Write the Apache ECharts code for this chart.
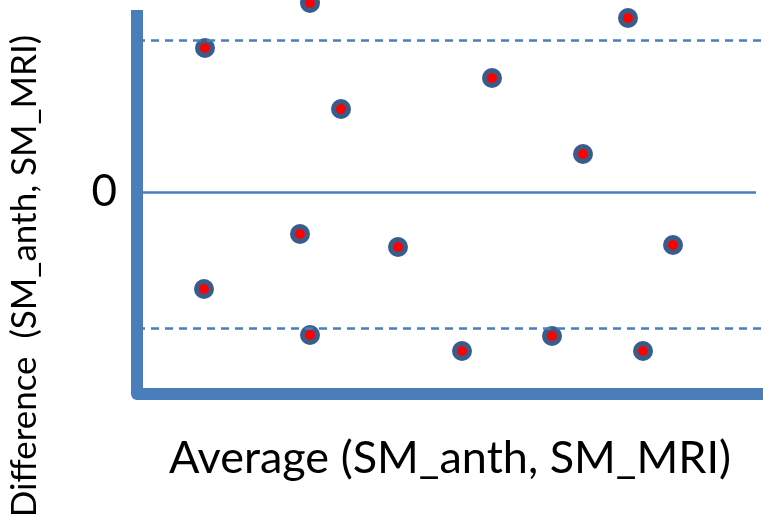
<!DOCTYPE html>
<html>
<head>
<meta charset="utf-8">
<title>Bland-Altman</title>
<script src="https://cdn.jsdelivr.net/npm/echarts@6/dist/echarts.min.js"></script>
<style>
  html, body { margin: 0; padding: 0; background: #fff; }
  #chart { width: 763px; height: 514px; }
</style>
</head>
<body>
<div id="chart"></div>
<script>
// average of the two measures (x) and their difference (y), arbitrary units
const avgVals  = [6.8, 17.3, 20.4, 35.5, 49.1, 44.6, 16.3, 6.7, 26.1, 53.6, 17.3, 32.5, 41.5, 50.6];
const diffVals = [14.4, 18.9, 8.3, 11.4, 17.4, 3.8, -4.2, -9.7, -5.5, -5.3, -14.3, -15.9, -14.4, -15.9];
const upperLoA = 15.2;
const lowerLoA = -13.6;
const meanDiff = 0;
const yTickLabels = [0];

const axisBlue = '#4a7ebb';

const points = avgVals.map((x, i) => [x, diffVals[i]]);

const chart = echarts.init(document.getElementById('chart'));
chart.setOption({
  animation: false,
  grid: { left: 137, right: 0, top: 10, bottom: 120 },
  xAxis: {
    type: 'value',
    min: 0,
    max: 62.6,
    name: 'Average (SM_anth, SM_MRI)',
    nameLocation: 'middle',
    nameGap: 42,
    nameTextStyle: { fontFamily: 'Lato', fontSize: 45, color: '#000' },
    axisLine: { onZero: false, lineStyle: { color: axisBlue, width: 12, cap: 'round' } },
    axisTick: { show: false },
    axisLabel: { show: false },
    splitLine: { show: false }
  },
  yAxis: {
    type: 'value',
    min: -20.2,
    max: 18.2,
    axisLine: { show: true, onZero: false, lineStyle: { color: axisBlue, width: 12, cap: 'butt' } },
    axisTick: { show: false },
    axisLabel: {
      customValues: yTickLabels,
      margin: 20,
      fontFamily: 'Lato',
      fontSize: 44,
      color: '#000',
      padding: [0, 0, 12, 0]
    },
    splitLine: { show: false }
  },
  graphic: [{
    type: 'text',
    x: 25,
    y: 276,
    rotation: Math.PI / 2,
    style: {
      text: 'Difference  (SM_anth, SM_MRI)',
      fontFamily: 'Lato',
      fontSize: 35,
      fill: '#000',
      align: 'center',
      verticalAlign: 'middle'
    }
  }],
  series: [
    {
      type: 'line',
      data: [],
      z: 1,
      markLine: {
        silent: true,
        symbol: 'none',
        label: { show: false },
        data: [
          { yAxis: upperLoA, lineStyle: { color: axisBlue, width: 2.5, type: [8, 6] } },
          { yAxis: lowerLoA, lineStyle: { color: axisBlue, width: 2.5, type: [8, 6] } },
          [
            { coord: [0, meanDiff], lineStyle: { color: axisBlue, width: 2.5, type: 'solid' } },
            { coord: [61.9, meanDiff] }
          ]
        ]
      }
    },
    {
      type: 'scatter',
      data: points,
      clip: false,
      z: 3,
      symbol: 'circle',
      symbolSize: 15,
      itemStyle: { color: '#ff0000', borderColor: '#385d8a', borderWidth: 5, opacity: 1 }
    }
  ]
});
</script>
</body>
</html>
